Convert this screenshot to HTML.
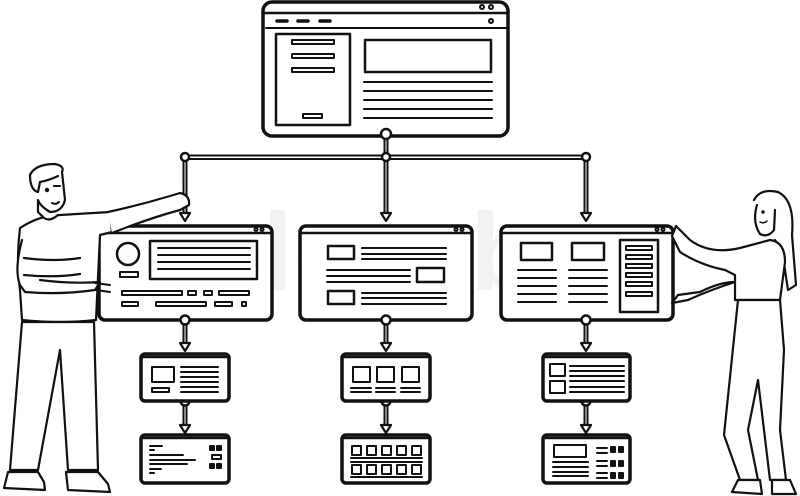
<!DOCTYPE html>
<html><head><meta charset="utf-8"><style>
html,body{margin:0;padding:0;background:#fff;}
svg{display:block;}
</style></head><body>
<svg width="800" height="496" viewBox="0 0 800 496" xmlns="http://www.w3.org/2000/svg" fill="none" stroke="#111" stroke-linecap="round" stroke-linejoin="round">
<defs>
<g id="arrow"><path d="M-5,-8 L5,-8 L0,0 Z" stroke-width="2.2" fill="#fff"/></g>
</defs>
<text x="400" y="290" font-family="Liberation Sans, sans-serif" font-size="110" font-weight="bold" fill="#f2f2f2" stroke="none" text-anchor="middle">colourbox</text>

<!-- top window -->
<rect x="263" y="2" width="245" height="134" rx="9" stroke-width="3.5" fill="#fff"/>
<line x1="265" y1="13" x2="506" y2="13" stroke-width="2.5"/>
<line x1="266" y1="28" x2="506" y2="28" stroke-width="2"/>
<g stroke-width="3.5"><line x1="277" y1="21" x2="287" y2="21"/><line x1="298" y1="21" x2="308" y2="21"/><line x1="320" y1="21" x2="330" y2="21"/></g>
<g stroke-width="2"><circle cx="482" cy="7" r="2"/><circle cx="491" cy="7" r="2"/><circle cx="491" cy="21" r="2"/></g>
<rect x="276" y="34" width="74" height="91" stroke-width="2.5"/>
<g stroke-width="2"><rect x="292" y="40" width="42" height="4"/><rect x="292" y="54" width="42" height="4"/><rect x="292" y="68" width="42" height="4"/><rect x="303" y="114" width="19" height="4"/></g>
<rect x="365" y="40" width="126" height="32" stroke-width="2.5"/>
<g stroke-width="2"><line x1="364" y1="82" x2="492" y2="82"/><line x1="364" y1="91" x2="492" y2="91"/><line x1="364" y1="100" x2="492" y2="100"/><line x1="364" y1="109" x2="492" y2="109"/><line x1="364" y1="118" x2="492" y2="118"/></g>

<!-- tree connectors -->
<g stroke-width="2">
<line x1="184" y1="155.5" x2="587" y2="155.5"/><line x1="184" y1="159" x2="587" y2="159"/>
<line x1="384.5" y1="138" x2="384.5" y2="214"/><line x1="387.5" y1="138" x2="387.5" y2="214"/>
<line x1="183.5" y1="157" x2="183.5" y2="214"/><line x1="186.5" y1="157" x2="186.5" y2="214"/>
<line x1="584.5" y1="157" x2="584.5" y2="214"/><line x1="587.5" y1="157" x2="587.5" y2="214"/>
</g>
<g stroke-width="2.5" fill="#fff"><circle cx="386" cy="134" r="5"/><circle cx="386" cy="157" r="4"/><circle cx="185" cy="157" r="4"/><circle cx="586" cy="157" r="4"/></g>
<use href="#arrow" x="185" y="221"/><use href="#arrow" x="386" y="221"/><use href="#arrow" x="586" y="221"/>

<!-- middle windows -->
<g stroke-width="3.5" fill="#fff">
<rect x="99" y="226" width="173" height="94" rx="6"/>
<rect x="300" y="226" width="172" height="94" rx="6"/>
<rect x="501" y="226" width="172" height="94" rx="6"/>
</g>
<g stroke-width="2.5"><line x1="100" y1="233" x2="271" y2="233"/><line x1="301" y1="233" x2="471" y2="233"/><line x1="502" y1="233" x2="672" y2="233"/></g>
<g stroke-width="2"><circle cx="256" cy="229.5" r="1.5"/><circle cx="262" cy="229.5" r="1.5"/><circle cx="456" cy="229.5" r="1.5"/><circle cx="462" cy="229.5" r="1.5"/><circle cx="657" cy="229.5" r="1.5"/><circle cx="663" cy="229.5" r="1.5"/></g>
<!-- w1 -->
<circle cx="128" cy="254" r="11" stroke-width="2.5"/>
<rect x="120" y="272" width="18" height="5" stroke-width="2"/>
<rect x="150" y="241" width="107" height="38" stroke-width="2.5"/>
<g stroke-width="2"><line x1="158" y1="248" x2="250" y2="248"/><line x1="158" y1="255" x2="250" y2="255"/><line x1="158" y1="262" x2="250" y2="262"/><line x1="158" y1="269" x2="250" y2="269"/>
<rect x="122" y="291" width="60" height="4"/><rect x="188" y="291" width="8" height="4"/><rect x="204" y="291" width="8" height="4"/><rect x="219" y="291" width="30" height="4"/>
<rect x="122" y="302" width="16" height="4"/><rect x="156" y="302" width="50" height="4"/><rect x="215" y="302" width="17" height="4"/><rect x="242" y="302" width="4" height="4"/></g>
<!-- w2 -->
<g stroke-width="2.5"><rect x="328" y="246" width="26" height="13"/><rect x="417" y="268" width="27" height="14"/><rect x="328" y="291" width="26" height="13"/></g>
<g stroke-width="2"><line x1="362" y1="248" x2="446" y2="248"/><line x1="362" y1="254" x2="446" y2="254"/><line x1="362" y1="259" x2="446" y2="259"/>
<line x1="327" y1="270" x2="410" y2="270"/><line x1="327" y1="276" x2="410" y2="276"/><line x1="327" y1="282" x2="410" y2="282"/>
<line x1="362" y1="293" x2="446" y2="293"/><line x1="362" y1="298" x2="446" y2="298"/><line x1="362" y1="304" x2="446" y2="304"/></g>
<!-- w3 -->
<g stroke-width="2.5"><rect x="521" y="243" width="31" height="17"/><rect x="572" y="243" width="32" height="17"/><rect x="620" y="240" width="38" height="72"/></g>
<g stroke-width="2"><line x1="518" y1="270" x2="556" y2="270"/><line x1="518" y1="278" x2="556" y2="278"/><line x1="518" y1="286" x2="556" y2="286"/><line x1="518" y1="294" x2="556" y2="294"/><line x1="518" y1="302" x2="556" y2="302"/>
<line x1="569" y1="270" x2="607" y2="270"/><line x1="569" y1="278" x2="607" y2="278"/><line x1="569" y1="286" x2="607" y2="286"/><line x1="569" y1="294" x2="607" y2="294"/><line x1="569" y1="302" x2="607" y2="302"/>
<rect x="626" y="246" width="26" height="4"/><rect x="626" y="255" width="26" height="4"/><rect x="626" y="264" width="26" height="4"/><rect x="626" y="273" width="26" height="4"/><rect x="626" y="282" width="26" height="4"/><rect x="626" y="292" width="26" height="4"/></g>

<!-- lower connectors -->
<g stroke-width="2">
<path d="M183.5,322 V344 M186.5,322 V344 M384.5,322 V344 M387.5,322 V344 M584.5,322 V344 M587.5,322 V344"/>
<path d="M183.5,404 V426 M186.5,404 V426 M384.5,404 V426 M387.5,404 V426 M584.5,404 V426 M587.5,404 V426"/>
</g>
<g stroke-width="2.5" fill="#fff"><circle cx="185" cy="320" r="4.5"/><circle cx="386" cy="320" r="4.5"/><circle cx="586" cy="320" r="4.5"/>
<circle cx="185" cy="401" r="4.5"/><circle cx="386" cy="401" r="4.5"/><circle cx="586" cy="401" r="4.5"/></g>
<use href="#arrow" x="185" y="351"/><use href="#arrow" x="386" y="351"/><use href="#arrow" x="586" y="351"/>
<use href="#arrow" x="185" y="433"/><use href="#arrow" x="386" y="433"/><use href="#arrow" x="586" y="433"/>

<!-- small windows -->
<g stroke-width="3.5" fill="#fff">
<rect x="141" y="354" width="88" height="47" rx="4"/><rect x="342" y="354" width="88" height="47" rx="4"/><rect x="543" y="354" width="87" height="47" rx="4"/>
<rect x="141" y="435" width="88" height="48" rx="4"/><rect x="342" y="435" width="88" height="48" rx="4"/><rect x="543" y="435" width="87" height="48" rx="4"/>
</g>
<g stroke-width="2.5"><line x1="142" y1="357" x2="228" y2="357"/><line x1="343" y1="357" x2="429" y2="357"/><line x1="544" y1="357" x2="629" y2="357"/>
<line x1="142" y1="438" x2="228" y2="438"/><line x1="343" y1="438" x2="429" y2="438"/><line x1="544" y1="438" x2="629" y2="438"/></g>
<g stroke-width="2"><rect x="152" y="367" width="22" height="15"/><rect x="152" y="388" width="17" height="4"/>
<path d="M181,367 H218 M181,372 H218 M181,377 H218 M181,382 H218 M181,387 H218 M181,392 H218"/>
<path d="M150,446 H162 M150,450 H154 M150,455 H183 M150,460 H195 M150,464 H187 M150,469 H161 M150,473 H154"/>
<rect x="210" y="446" width="4" height="4" fill="#111"/><rect x="217" y="446" width="4" height="4" fill="#111"/><rect x="212" y="455" width="9" height="4"/><rect x="210" y="464" width="4" height="4" fill="#111"/><rect x="217" y="464" width="4" height="4" fill="#111"/></g>
<g stroke-width="2"><rect x="353" y="367" width="17" height="15"/><rect x="377" y="367" width="17" height="15"/><rect x="402" y="367" width="17" height="15"/>
<path d="M351,388 H371 M351,392 H371 M376,388 H395 M376,392 H395 M401,388 H420 M401,392 H420"/>
<rect x="352" y="446" width="9" height="9"/><rect x="367" y="446" width="9" height="9"/><rect x="382" y="446" width="9" height="9"/><rect x="397" y="446" width="9" height="9"/><rect x="412" y="446" width="9" height="9"/>
<path d="M351,458 H422 M351,462 H422"/>
<rect x="352" y="465" width="9" height="9"/><rect x="367" y="465" width="9" height="9"/><rect x="382" y="465" width="9" height="9"/><rect x="397" y="465" width="9" height="9"/><rect x="412" y="465" width="9" height="9"/>
<path d="M351,477 H422"/></g>
<g stroke-width="2"><rect x="550" y="364" width="15" height="12"/><rect x="550" y="381" width="15" height="12"/>
<path d="M570,366 H624 M570,371 H624 M570,376 H624 M570,381 H624 M570,387 H624 M570,392 H624"/>
<rect x="554" y="445" width="32" height="12"/><path d="M553,462 H588 M553,467 H588 M553,472 H588 M553,476 H588"/>
<path d="M597,448 H607 M597,453 H607 M597,461 H607 M597,466 H607 M597,473 H607 M597,478 H607"/>
<rect x="611" y="447" width="4" height="5" fill="#111"/><rect x="619" y="447" width="4" height="5" fill="#111"/><rect x="611" y="461" width="4" height="5" fill="#111"/><rect x="619" y="461" width="4" height="5" fill="#111"/><rect x="611" y="473" width="4" height="5" fill="#111"/><rect x="619" y="473" width="4" height="5" fill="#111"/></g>

<!-- man -->
<g stroke-width="2.2" fill="#fff">
<path d="M20,228 Q40,215 60,215 L110,212 L112,232 L100,235 L96,320 Q60,324 22,320 L20,290 Q16,260 20,228 Z"/>
<path d="M108,212 Q140,205 170,196 L180,193 Q190,195 189,205 L180,210 Q150,218 112,233"/>
<path d="M30,175 Q35,164 55,164 Q65,166 62,172 L65,200 Q62,212 50,212 Q40,206 38,200 L38,212 L44,218 Q50,222 58,215" />
<path d="M30,175 Q30,190 38,192 L40,182 Q50,180 58,176"/>
<path d="M22,240 Q14,270 20,285 L25,292 Q60,295 95,290 L100,282 Q70,284 40,280"/>
<path d="M24,258 Q55,262 80,258 M24,275 Q55,278 80,274"/>
<path d="M22,322 L10,470 L38,470 L60,350 L68,470 L98,470 L94,322 Z"/>
<path d="M8,472 L4,488 L45,490 L44,482 L38,472 Z"/>
<path d="M66,472 L68,490 L110,492 L108,484 L98,472 Z"/>
</g>
<g stroke-width="2"><circle cx="47" cy="190" r="1.2" fill="#111"/><path d="M54,186 L60,186 M52,203 Q56,205 59,202"/>
<path d="M95,283 L110,285 M96,290 L110,292"/></g>

<!-- woman -->
<g stroke-width="2.2" fill="#fff">
<path d="M754,200 Q760,188 778,192 Q795,200 792,235 L796,285 L788,290 L782,250 L775,240"/>
<path d="M757,205 Q752,222 760,234 Q768,238 774,230 L775,210"/>
<path d="M740,248 L770,240 Q785,242 785,262 L780,300 L735,300 L735,275 L725,270 Q700,265 680,252 L672,236 L676,226 L690,240 Q710,255 740,248 Z"/>
<path d="M735,282 Q710,290 688,300 L672,303 L678,295 L700,292 Q720,282 735,282"/>
<path d="M738,300 L724,435 L740,480 L758,480 L748,430 L758,380 L770,480 L786,480 L780,430 L784,350 L780,300 Z"/>
<path d="M738,480 L732,492 L762,494 L760,480 Z"/>
<path d="M772,480 L772,494 L796,494 L790,480 Z"/>
</g>
<g stroke-width="1.5"><circle cx="763" cy="212" r="1" fill="#111"/><path d="M760,222 Q764,224 767,221"/></g>
</svg>
</body></html>
